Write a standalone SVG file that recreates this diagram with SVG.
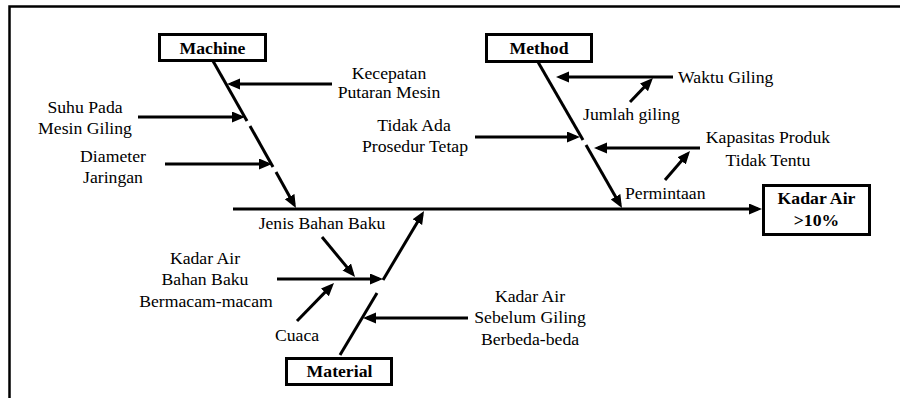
<svg xmlns="http://www.w3.org/2000/svg" width="900" height="398" viewBox="0 0 900 398">
<style>
.t{font-family:"Liberation Serif","Times New Roman",serif;font-size:17.7px;fill:#000}
.m{text-anchor:middle}
.b{font-weight:bold}
.box{fill:#fff;stroke:#000;stroke-width:3}
.ln{stroke:#000;stroke-width:3;fill:none}
.ar{stroke:#000;stroke-width:3;fill:none;marker-end:url(#ah)}
</style>
<defs>
<marker id="ah" markerUnits="userSpaceOnUse" markerWidth="14" markerHeight="12" refX="9" refY="5.5" orient="auto">
<path d="M0,0 L13,5.5 L0,11 z" fill="#000"/>
</marker>
</defs>
<rect width="900" height="398" fill="#fff"/>
<path d="M9.5,398 V6.5 H900" fill="none" stroke="#000" stroke-width="2.5"/>

<g id="connectors">
<line class="ar" x1="233" y1="209" x2="758" y2="209"/>
<line class="ln" x1="213" y1="61" x2="247" y2="121"/>
<line class="ln" x1="250" y1="126" x2="273" y2="167"/>
<line class="ar" x1="276" y1="172" x2="294" y2="204.5"/>
<line class="ar" x1="332" y1="84" x2="231" y2="84"/>
<line class="ar" x1="138" y1="117" x2="241" y2="117"/>
<line class="ar" x1="165" y1="164" x2="268" y2="164"/>
<line class="ln" x1="538" y1="62" x2="583" y2="140"/>
<line class="ar" x1="586" y1="145" x2="620" y2="204.5"/>
<line class="ar" x1="673" y1="77" x2="560" y2="77"/>
<line class="ar" x1="630" y1="102" x2="650.2" y2="80.9"/>
<line class="ar" x1="475" y1="137" x2="576" y2="137"/>
<line class="ar" x1="700" y1="148" x2="598" y2="148"/>
<line class="ar" x1="665" y1="180" x2="687.4" y2="154"/>
<line class="ln" x1="340" y1="355" x2="377" y2="293"/>
<line class="ar" x1="383" y1="280" x2="422" y2="214.4"/>
<line class="ar" x1="277" y1="279" x2="379" y2="279"/>
<line class="ar" x1="322" y1="237" x2="352.5" y2="273.9"/>
<line class="ar" x1="297" y1="321" x2="331.2" y2="285.9"/>
<line class="ar" x1="468" y1="318" x2="367" y2="318"/>
</g>

<g font-family="Liberation Serif, Times New Roman, serif">
<g id="machine">
<rect class="box" x="159.5" y="34.5" width="106" height="26"/>
<text class="t m b" x="212.5" y="54">Machine</text>
</g>
<g id="method">
<rect class="box" x="486.5" y="34.5" width="105" height="27"/>
<text class="t m b" x="539" y="54">Method</text>
</g>
<g id="material">
<rect class="box" x="286.5" y="358.5" width="105" height="26"/>
<text class="t m b" x="339.5" y="377">Material</text>
</g>
<g id="effect">
<rect class="box" x="763.5" y="185.5" width="106" height="49"/>
<text class="t m b" x="816.5" y="204">Kadar Air</text>
<text class="t m b" x="816.5" y="226">&gt;10%</text>
</g>

<g id="kecepatan"><text class="t m" x="389" y="79">Kecepatan</text><text class="t m" x="389" y="97.5">Putaran Mesin</text></g>
<g id="suhu"><text class="t m" x="85" y="113">Suhu Pada</text><text class="t m" x="85" y="134">Mesin Giling</text></g>
<g id="diameter"><text class="t m" x="113" y="162">Diameter</text><text class="t m" x="113" y="183">Jaringan</text></g>
<g id="waktu"><text class="t" x="678" y="83">Waktu Giling</text></g>
<g id="jumlah"><text class="t" x="583" y="120">Jumlah giling</text></g>
<g id="tidakada"><text class="t m" x="414" y="131">Tidak Ada</text><text class="t m" x="415" y="152">Prosedur Tetap</text></g>
<g id="kapasitas"><text class="t m" x="768" y="143">Kapasitas Produk</text><text class="t m" x="768" y="166">Tidak Tentu</text></g>
<g id="permintaan"><text class="t" x="625" y="199">Permintaan</text></g>
<g id="jenis"><text class="t m" x="322" y="229">Jenis Bahan Baku</text></g>
<g id="kadarbahan"><text class="t m" x="205" y="264">Kadar Air</text><text class="t m" x="205" y="285">Bahan Baku</text><text class="t m" x="206" y="307">Bermacam-macam</text></g>
<g id="cuaca"><text class="t m" x="297" y="341">Cuaca</text></g>
<g id="kadarsebelum"><text class="t m" x="530" y="302">Kadar Air</text><text class="t m" x="530" y="323">Sebelum Giling</text><text class="t m" x="530" y="345">Berbeda-beda</text></g>
</g>
</svg>
